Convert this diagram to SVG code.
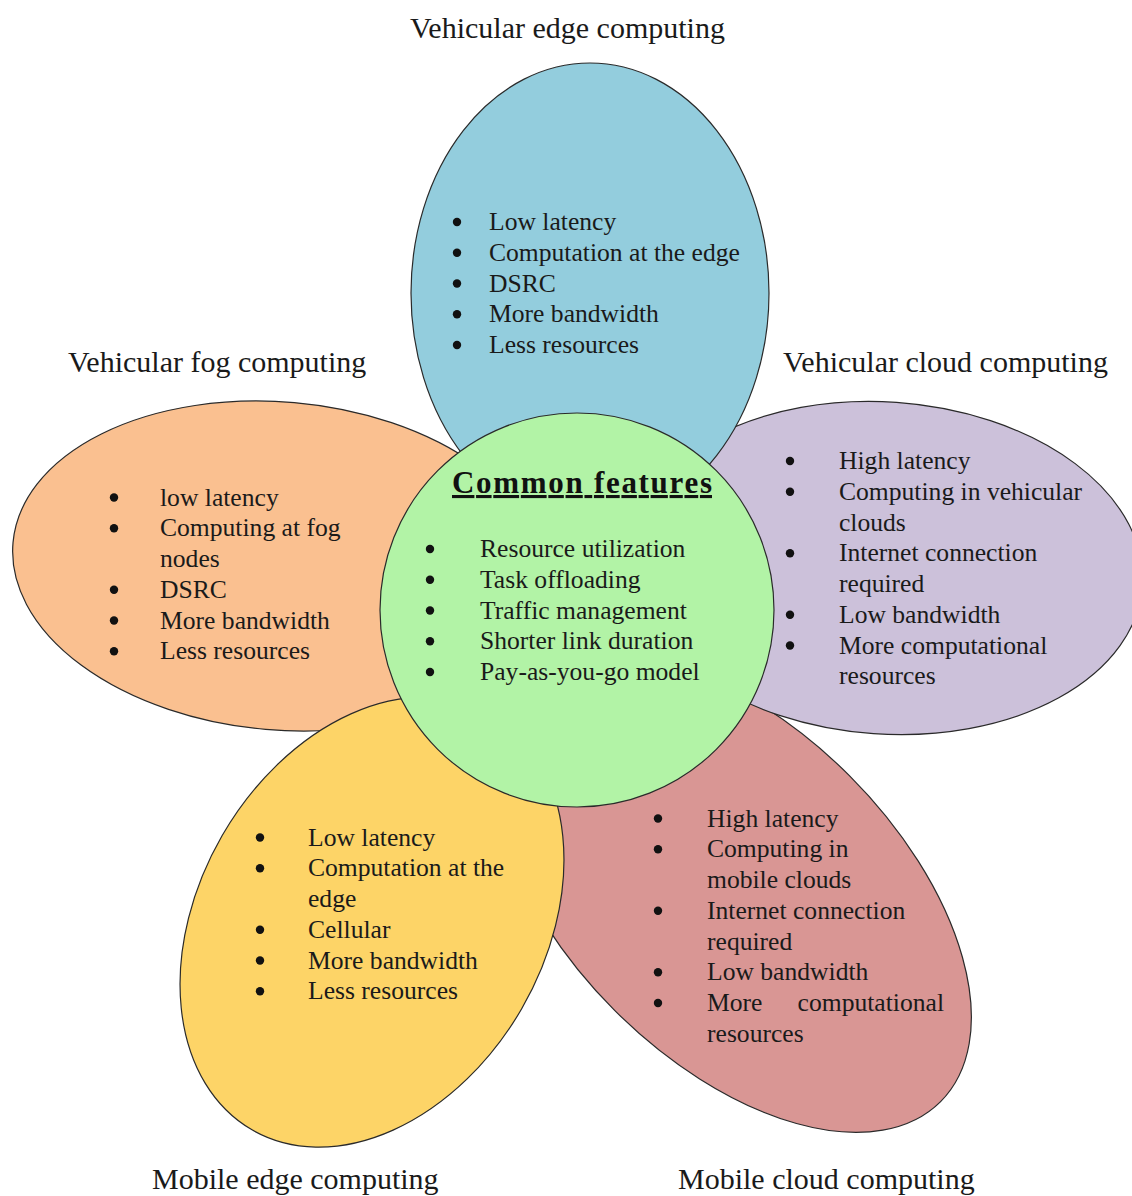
<svg xmlns="http://www.w3.org/2000/svg" width="1132" height="1196" viewBox="0 0 1132 1196">
<style>
.petal{stroke:#2a2a2a;stroke-width:1.2}
.t{font-family:"Liberation Serif","Times New Roman",serif;font-size:25.6px;fill:#1a1a1a}
.title{font-family:"Liberation Serif","Times New Roman",serif;font-size:30px;fill:#1a1a1a}
.head{font-family:"Liberation Serif","Times New Roman",serif;font-size:31px;font-weight:bold;fill:#111;text-decoration:underline}
.b{fill:#111}
</style>
<rect width="1132" height="1196" fill="#ffffff"/>
<g id="connectors"/>

<g id="mobile-cloud">
<ellipse class="petal" cx="732" cy="893" rx="295" ry="166" transform="rotate(45 732 893)" fill="#D99694"/>
<text class="title" x="678" y="1189">Mobile cloud computing</text>
<circle class="b" cx="658" cy="818.5" r="4.2"/>
<circle class="b" cx="658" cy="849.25" r="4.2"/>
<circle class="b" cx="658" cy="910.75" r="4.2"/>
<circle class="b" cx="658" cy="972.25" r="4.2"/>
<circle class="b" cx="658" cy="1003" r="4.2"/>
<text class="t" x="707" y="826.5">High latency</text>
<text class="t" x="707" y="857.25">Computing in</text>
<text class="t" x="707" y="888">mobile clouds</text>
<text class="t" x="707" y="918.75">Internet connection</text>
<text class="t" x="707" y="949.5">required</text>
<text class="t" x="707" y="980.25">Low bandwidth</text>
<text class="t" y="1011"><tspan x="707">More</tspan><tspan x="944" text-anchor="end">computational</tspan></text>
<text class="t" x="707" y="1041.75">resources</text>
</g>

<g id="vehicular-cloud">
<ellipse class="petal" cx="885" cy="568" rx="258" ry="166" transform="rotate(4 885 568)" fill="#CCC1DA"/>
<text class="title" x="783" y="372">Vehicular cloud computing</text>
<circle class="b" cx="790" cy="461" r="4.2"/>
<circle class="b" cx="790" cy="491.75" r="4.2"/>
<circle class="b" cx="790" cy="553.25" r="4.2"/>
<circle class="b" cx="790" cy="614.75" r="4.2"/>
<circle class="b" cx="790" cy="645.5" r="4.2"/>
<text class="t" x="839" y="469">High latency</text>
<text class="t" x="839" y="499.75">Computing in vehicular</text>
<text class="t" x="839" y="530.5">clouds</text>
<text class="t" x="839" y="561.25">Internet connection</text>
<text class="t" x="839" y="592">required</text>
<text class="t" x="839" y="622.75">Low bandwidth</text>
<text class="t" x="839" y="653.5">More computational</text>
<text class="t" x="839" y="684.25">resources</text>
</g>

<g id="vehicular-fog">
<ellipse class="petal" cx="280" cy="566" rx="268" ry="164" transform="rotate(5 280 566)" fill="#FAC090"/>
<text class="title" x="68" y="372">Vehicular fog computing</text>
<circle class="b" cx="114" cy="497.5" r="4.2"/>
<circle class="b" cx="114" cy="528.25" r="4.2"/>
<circle class="b" cx="114" cy="589.75" r="4.2"/>
<circle class="b" cx="114" cy="620.5" r="4.2"/>
<circle class="b" cx="114" cy="651.25" r="4.2"/>
<text class="t" x="160" y="505.5">low latency</text>
<text class="t" x="160" y="536.25">Computing at fog</text>
<text class="t" x="160" y="567">nodes</text>
<text class="t" x="160" y="597.75">DSRC</text>
<text class="t" x="160" y="628.5">More bandwidth</text>
<text class="t" x="160" y="659.25">Less resources</text>
</g>

<g id="vehicular-edge">
<ellipse class="petal" cx="590" cy="293" rx="179" ry="230" fill="#93CDDD"/>
<text class="title" x="410" y="38">Vehicular edge computing</text>
<circle class="b" cx="457" cy="222" r="4.2"/>
<circle class="b" cx="457" cy="252.75" r="4.2"/>
<circle class="b" cx="457" cy="283.5" r="4.2"/>
<circle class="b" cx="457" cy="314.25" r="4.2"/>
<circle class="b" cx="457" cy="345" r="4.2"/>
<text class="t" x="489" y="230">Low latency</text>
<text class="t" x="489" y="260.75">Computation at the edge</text>
<text class="t" x="489" y="291.5">DSRC</text>
<text class="t" x="489" y="322.25">More bandwidth</text>
<text class="t" x="489" y="353">Less resources</text>
</g>

<g id="mobile-edge">
<ellipse class="petal" cx="372" cy="922" rx="240" ry="173" transform="rotate(-60 372 922)" fill="#FDD467"/>
<text class="title" x="152" y="1189">Mobile edge computing</text>
<circle class="b" cx="260" cy="837.5" r="4.2"/>
<circle class="b" cx="260" cy="868.25" r="4.2"/>
<circle class="b" cx="260" cy="929.75" r="4.2"/>
<circle class="b" cx="260" cy="960.5" r="4.2"/>
<circle class="b" cx="260" cy="991.25" r="4.2"/>
<text class="t" x="308" y="845.5">Low latency</text>
<text class="t" x="308" y="876.25">Computation at the</text>
<text class="t" x="308" y="907">edge</text>
<text class="t" x="308" y="937.75">Cellular</text>
<text class="t" x="308" y="968.5">More bandwidth</text>
<text class="t" x="308" y="999.25">Less resources</text>
</g>

<g id="common-features">
<circle class="petal" cx="577" cy="610" r="197" fill="#B2F3A6"/>
<text class="head" x="452" y="493" textLength="260" lengthAdjust="spacing">Common features</text>
<circle class="b" cx="430" cy="549" r="4.2"/>
<circle class="b" cx="430" cy="579.75" r="4.2"/>
<circle class="b" cx="430" cy="610.5" r="4.2"/>
<circle class="b" cx="430" cy="641.25" r="4.2"/>
<circle class="b" cx="430" cy="672" r="4.2"/>
<text class="t" x="480" y="557">Resource utilization</text>
<text class="t" x="480" y="587.75">Task offloading</text>
<text class="t" x="480" y="618.5">Traffic management</text>
<text class="t" x="480" y="649.25">Shorter link duration</text>
<text class="t" x="480" y="680">Pay-as-you-go model</text>
</g>
</svg>
